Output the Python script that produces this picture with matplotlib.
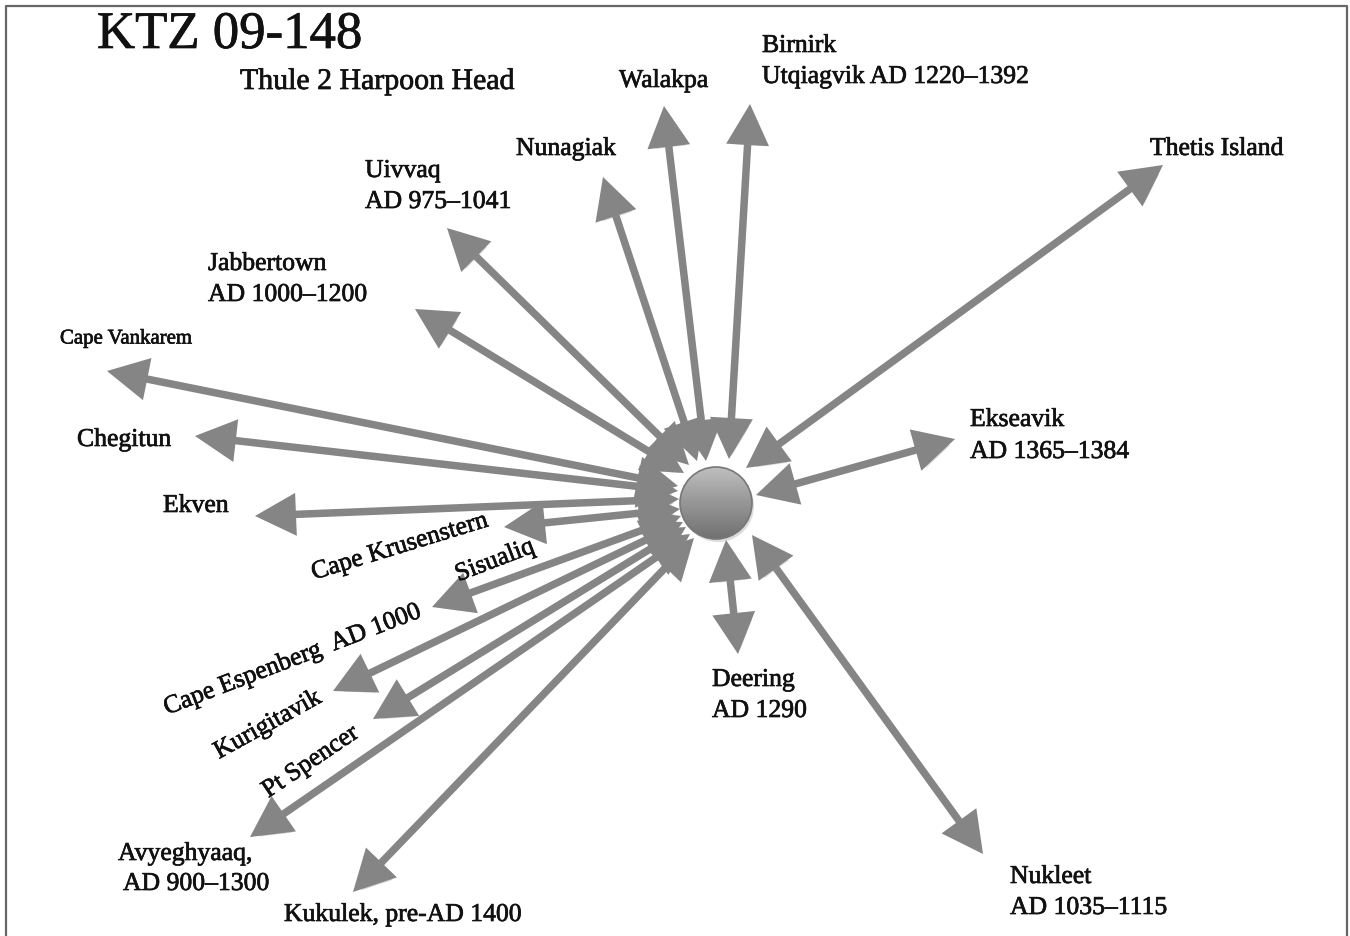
import numpy as np
import matplotlib
matplotlib.use('Agg')
import matplotlib.pyplot as plt
import matplotlib.patheffects as pe
from matplotlib.patches import FancyArrowPatch, Circle, ArrowStyle

# hub (artefact) position in picture pixels
hub = (716, 504)
hubRadius = 36

# arrows: outer tip and inner tip (near the hub), in picture pixels
sites = ['Walakpa', 'Birnirk', 'Nunagiak', 'Uivvaq', 'Jabbertown', 'Cape Vankarem',
         'Chegitun', 'Ekven', 'Cape Krusenstern', 'Sisualiq', 'Cape Espenberg',
         'Kurigitavik', 'Avyeghyaaq', 'Kukulek', 'Deering', 'Nukleet',
         'Ekseavik', 'Thetis Island']
outerX = [664, 750, 603, 447, 415, 107, 195, 255, 504, 432, 333, 373, 250, 353, 738, 983, 955, 1163]
outerY = [107, 105, 178, 229, 310, 372, 437, 517, 528, 608, 692, 720, 838, 893, 655, 855, 440, 166]
innerX = [706, 729, 697, 689, 684, 678, 678, 679, 680, 681, 683, 686, 690, 694, 726, 752, 756, 746]
innerY = [462, 460, 462, 466, 474, 487, 492, 500, 510, 517, 523, 528, 535, 539, 541, 536, 496, 469]

# labels: text, x, y, size, rotation
labelText = ['Birnirk', 'Utqiagvik AD 1220–1392', 'Walakpa', 'Nunagiak',
             'Uivvaq', 'AD 975–1041', 'Jabbertown', 'AD 1000–1200',
             'Cape Vankarem', 'Chegitun', 'Ekven', 'Cape Krusenstern', 'Sisualiq',
             'Cape Espenberg  AD 1000', 'Kurigitavik', 'Pt Spencer',
             'Avyeghyaaq,', 'AD 900–1300', 'Kukulek, pre-AD 1400',
             'Deering', 'AD 1290', 'Nukleet', 'AD 1035–1115',
             'Ekseavik', 'AD 1365–1384', 'Thetis Island']
labelX = [762, 762, 619, 516, 365, 365, 208, 208, 60, 77, 163, 400, 495,
          293, 268, 311, 118, 123, 284, 712, 712, 1010, 1010, 970, 970, 1150]
labelY = [47, 78, 82, 150, 172, 203, 265, 296, 340, 441, 507, 548, 562,
          661, 726, 763, 855, 885, 916, 681, 712, 878, 909, 421, 453, 150]
labelSize = [18.5, 18.5, 18.5, 18.5, 18.5, 18.5, 18.5, 18.5, 15, 18.5, 18.5, 18.5, 18.5,
             18.5, 18.5, 18.5, 18.5, 18.5, 18.5, 18.5, 18.5, 18.5, 18.5, 18.5, 18.5, 18.5]
labelRot = [0, 0, 0, 0, 0, 0, 0, 0, 0, 0, 0, 17, 21, 21, 29, 34, 0, 0, 0,
            0, 0, 0, 0, 0, 0, 0]
centred = [11, 12, 13, 14, 15]

title = 'KTZ 09-148'
subtitle = 'Thule 2 Harpoon Head'

plt.rcParams['font.family'] = ['Liberation Serif', 'DejaVu Serif']

fig = plt.figure(figsize=(13.5, 9.37), dpi=100)
ax = fig.add_axes([0, 0, 1, 1])
ax.set_xlim(0, 1350)
ax.set_ylim(937, 0)
ax.axis('off')

# frame (left, top, right)
ax.plot([6, 6, 1347, 1347], [937, 7, 7, 937], color='#666666', lw=1.6)

arrowColor = '#858585'
style = ArrowStyle('<|-|>', head_length=21, head_width=11)
shadow = [pe.SimplePatchShadow(offset=(2, -3), shadow_rgbFace='#9a9a9a', alpha=0.35), pe.Normal()]

for i in range(len(sites)):
    arr = FancyArrowPatch((innerX[i], innerY[i]), (outerX[i], outerY[i]),
                          arrowstyle=style, mutation_scale=1, lw=5.4,
                          color=arrowColor, shrinkA=0, shrinkB=0,
                          joinstyle='miter', capstyle='butt', zorder=2)
    arr.set_path_effects(shadow)
    ax.add_patch(arr)

# hub sphere with vertical gradient
grad = np.linspace(0, 1, 200).reshape(-1, 1)
grad = np.hstack([grad] * 2)
img = ax.imshow(grad, cmap=plt.cm.Greys, vmin=-1.4, vmax=2.4,
                extent=(hub[0] - hubRadius, hub[0] + hubRadius,
                        hub[1] + hubRadius, hub[1] - hubRadius),
                aspect='auto', zorder=4, interpolation='bilinear')
clip = Circle(hub, hubRadius, transform=ax.transData)
img.set_clip_path(clip)
ax.add_patch(Circle(hub, hubRadius, fill=False, ec='#777777', lw=1.2, zorder=5))
ax.add_patch(Circle((hub[0] + 2, hub[1] + 3), hubRadius, fc='#bbbbbb', ec='none', alpha=0.5, zorder=3))

textColor = '#111111'
thick = [pe.withStroke(linewidth=0.5, foreground=textColor)]
ax.text(97, 36, title, fontsize=38, color=textColor, va='center', ha='left',
        path_effects=thick)
ax.text(240, 83, subtitle, fontsize=21.5, color=textColor, va='center', ha='left',
        path_effects=thick)

for i, t in enumerate(labelText):
    ha = 'center' if i in centred else 'left'
    ax.text(labelX[i], labelY[i], t, fontsize=labelSize[i], color=textColor,
            rotation=labelRot[i], rotation_mode='anchor' if ha == 'left' else 'default',
            ha=ha, va='center', zorder=6, path_effects=thick)

fig.savefig('out.png', dpi=100, facecolor='white')
